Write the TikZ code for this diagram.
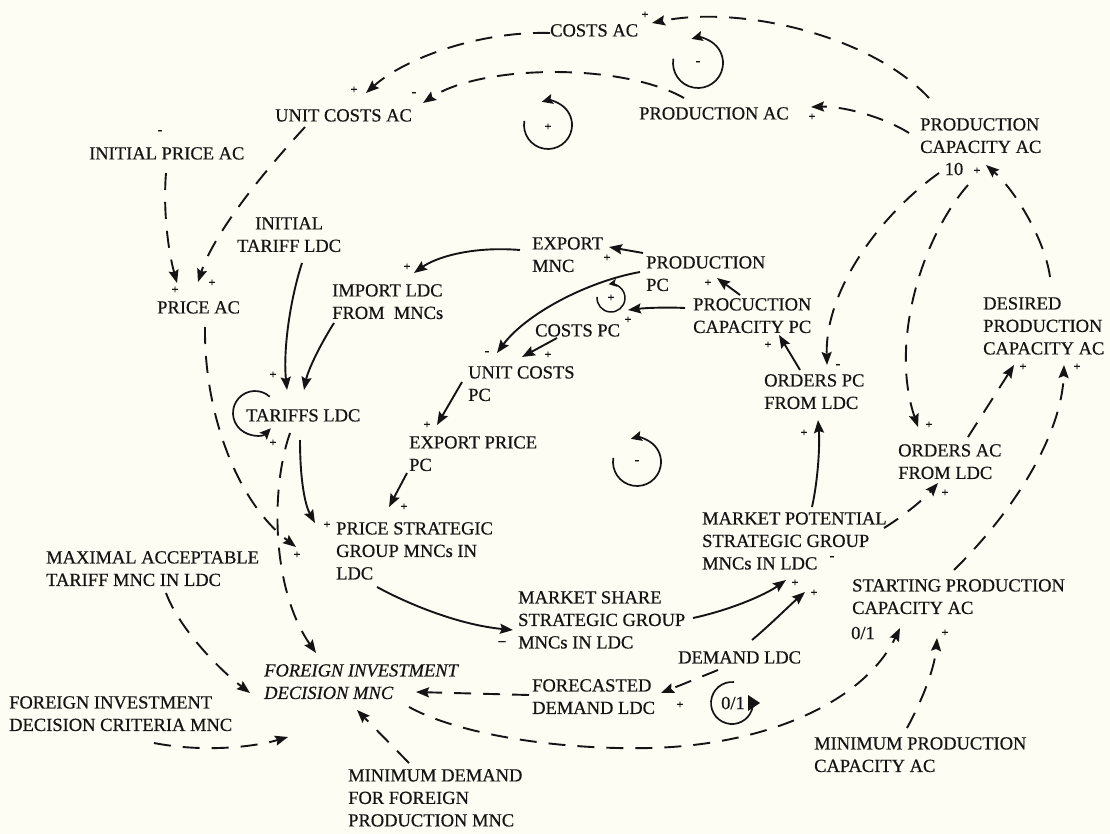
\documentclass[tikz,border=0pt]{standalone}
\usepackage{fontspec}
\setmainfont{Liberation Serif}[FakeBold=0.5]
\usetikzlibrary{arrows.meta}
\definecolor{bg}{RGB}{253,253,243}
\definecolor{ink}{RGB}{20,20,20}
\begin{document}
\begin{tikzpicture}[x=1pt,y=-1pt,
  lbl/.style={inner sep=0pt,anchor=north west,align=left,font=\fontsize{18.5}{22.5}\selectfont,text=ink},
  sgn/.style={inner sep=0pt,font=\fontsize{12}{12}\selectfont\bfseries,text=ink},
  msgn/.style={inner sep=0pt,font=\fontsize{14}{14}\selectfont\bfseries,text=ink},
  solidarr/.style={draw=ink,line width=1.9pt,-{Stealth[length=13pt,width=10pt,inset=2pt]}},
  dasharr/.style={solidarr,dash pattern=on 17pt off 12pt},
  loopln/.style={draw=ink,line width=1.7pt,-{Stealth[length=11pt,width=10pt,inset=2pt]}},
]
\fill[bg] (0,0) rectangle (1110,834);
\useasboundingbox (0,0) rectangle (1110,834);

% ---------- nodes ----------
\node[lbl] (costsac) at (550,24) {COSTS AC};
\node[lbl] (ucac) at (275,109) {UNIT COSTS AC};
\node[lbl] (prodac) at (639,107) {PRODUCTION AC};
\node[lbl] (pcapac) at (920,118) {PRODUCTION\\CAPACITY AC};
\node[lbl] (ipac) at (89,147) {INITIAL PRICE AC};
\node[lbl] (priceac) at (157,301) {PRICE AC};
\node[lbl,align=center] (itldc) at (237,217) {INITIAL\\TARIFF LDC};
\node[lbl] (imldc) at (332,284) {IMPORT LDC\\FROM\enspace MNCs};
\node[lbl] (expmnc) at (532,237) {EXPORT\\MNC};
\node[lbl] (prodpc) at (646,256) {PRODUCTION\\PC};
\node[lbl] (pcappc) at (693,298) {PROCUCTION\\CAPACITY PC};
\node[lbl] (costspc) at (535,324) {COSTS PC};
\node[lbl] (ucpc) at (468,366) {UNIT COSTS\\PC};
\node[lbl] (exppc) at (409,436) {EXPORT PRICE\\PC};
\node[lbl] (tariffs) at (246,409) {TARIFFS LDC};
\node[lbl] (psg) at (336,522) {PRICE STRATEGIC\\GROUP MNCs IN\\LDC};
\node[lbl] (maxtar) at (46,551) {MAXIMAL ACCEPTABLE\\TARIFF MNC IN LDC};
\node[lbl] (msh) at (518,591) {MARKET SHARE\\STRATEGIC GROUP\\MNCs IN LDC};
\node[lbl] (mpot) at (702,512) {MARKET POTENTIAL\\STRATEGIC GROUP\\MNCs IN LDC};
\node[lbl] (ordpc) at (764,374) {ORDERS PC\\FROM LDC};
\node[lbl] (ordac) at (898,444) {ORDERS AC\\FROM LDC};
\node[lbl] (despc) at (983,297) {DESIRED\\PRODUCTION\\CAPACITY AC};
\node[lbl] (startac) at (852,579) {STARTING PRODUCTION\\CAPACITY AC};
\node[lbl] (demand) at (678,651) {DEMAND LDC};
\node[lbl] (fcd) at (532,679) {FORECASTED\\DEMAND LDC};
\node[lbl,font=\fontsize{18.5}{22.5}\selectfont\itshape] (fid) at (264,664) {FOREIGN INVESTMENT\\DECISION MNC};
\node[lbl] (fidc) at (9,696) {FOREIGN INVESTMENT\\DECISION CRITERIA MNC};
\node[lbl] (mindem) at (348,769) {MINIMUM DEMAND\\FOR FOREIGN\\PRODUCTION MNC};
\node[lbl] (minpc) at (814,737) {MINIMUM PRODUCTION\\CAPACITY AC};

% ---------- connectors ----------
\draw[dasharr] ([shift={(9,-20)}]pcapac.north west) .. controls (870,35) and (740,5) .. ([shift={(102,-1)}]costsac.north west);
\draw[dasharr] ([shift={(0,9)}]costsac.north west) .. controls (480,31) and (405,58) .. ([shift={(91,-16)}]ucac.north west);
\draw[dasharr] ([shift={(45,-9)}]prodac.north west) .. controls (620,62) and (480,65) .. ([shift={(148,-6)}]ucac.north west);
\draw[dasharr] ([shift={(-11,15)}]pcapac.north west) .. controls (880,115) and (840,106) .. ([shift={(172,0)}]prodac.north west);
\draw[dasharr] ([shift={(19,55)}]pcapac.north west) .. controls (880,215) and (825,290) .. ([shift={(63,-9)}]ordpc.north west);
\draw[dasharr] ([shift={(48,67)}]pcapac.north west) .. controls (920,240) and (890,345) .. ([shift={(20,-17)}]ordac.north west);
\draw[dasharr] ([shift={(67,-20)}]despc.north west) .. controls (1045,240) and (1015,190) .. ([shift={(66,47)}]pcapac.north west);
\draw[dasharr] ([shift={(70,-7)}]ordac.north west) -- ([shift={(31,68)}]despc.north west);
\draw[dasharr] ([shift={(102,-9)}]startac.north west) .. controls (1020,505) and (1062,430) .. ([shift={(81,68)}]despc.north west);
\draw[dasharr] ([shift={(182,16)}]mpot.north west) .. controls (905,515) and (925,498) .. ([shift={(40,39)}]ordac.north west);
\draw[solidarr] ([shift={(110,-5)}]mpot.north west) .. controls (818,480) and (820,445) .. ([shift={(54,46)}]ordpc.north west);
\draw[solidarr] ([shift={(36,-4)}]ordpc.north west) -- ([shift={(86,37)}]pcappc.north west);
\draw[solidarr] ([shift={(47,-3)}]pcappc.north west) -- ([shift={(71,22)}]prodpc.north west);
\draw[solidarr] ([shift={(-8,10)}]pcappc.north west) .. controls (665,307) and (645,308) .. ([shift={(93,-14)}]costspc.north west);
\draw[solidarr] ([shift={(-3,-3)}]prodpc.north west) -- ([shift={(77,10)}]expmnc.north west);
\draw[solidarr] ([shift={(-12,13)}]expmnc.north west) .. controls (470,246) and (435,258) .. ([shift={(82,-11)}]imldc.north west);
\draw[solidarr] ([shift={(-6,16)}]prodpc.north west) .. controls (585,282) and (525,315) .. ([shift={(29,-13)}]ucpc.north west);
\draw[solidarr] ([shift={(22,14)}]costspc.north west) -- ([shift={(54,-9)}]ucpc.north west);
\draw[solidarr] ([shift={(-6,16)}]ucpc.north west) -- ([shift={(28,-11)}]exppc.north west);
\draw[solidarr] ([shift={(-2,37)}]exppc.north west) -- ([shift={(53,-15)}]psg.north west);
\draw[solidarr] ([shift={(65,46)}]itldc.north west) .. controls (290,300) and (283,350) .. ([shift={(41,-19)}]tariffs.north west);
\draw[solidarr] ([shift={(2,39)}]imldc.north west) .. controls (320,345) and (308,370) .. ([shift={(58,-19)}]tariffs.north west);
\draw[solidarr] ([shift={(54,31)}]tariffs.north west) .. controls (300,480) and (305,505) .. ([shift={(-21,1)}]psg.north west);
\draw[dasharr] ([shift={(44,24)}]tariffs.north west) .. controls (270,490) and (272,590) .. ([shift={(52,-11)}]fid.north west);
\draw[dasharr] ([shift={(48,26)}]priceac.north west) .. controls (204,410) and (235,500) .. ([shift={(-40,25)}]psg.north west);
\draw[dasharr] ([shift={(77,26)}]ipac.north west) .. controls (163,210) and (168,250) .. ([shift={(20,-18)}]priceac.north west);
\draw[dasharr] ([shift={(30,18)}]ucac.north west) .. controls (270,165) and (215,230) .. ([shift={(41,-19)}]priceac.north west);
\draw[solidarr] ([shift={(41,65)}]psg.north west) .. controls (410,605) and (460,625) .. ([shift={(-5,39)}]msh.north west);
\draw[solidarr] ([shift={(175,27)}]msh.north west) .. controls (730,610) and (765,595) .. ([shift={(84,68)}]mpot.north west);
\draw[solidarr] ([shift={(74,-11)}]demand.north west) .. controls (770,625) and (790,605) .. ([shift={(103,80)}]mpot.north west);
\draw[dasharr] ([shift={(40,19)}]demand.north west) -- ([shift={(129,14)}]fcd.north west);
\draw[dasharr] ([shift={(-3,16)}]fcd.north west) -- ([shift={(152,28)}]fid.north west);
\draw[dasharr] ([shift={(145,43)}]fid.north west) .. controls (460,735) and (560,750) .. (650,748) .. controls (770,745) and (865,700) .. ([shift={(48,49)}]startac.north west);
\draw[dasharr] ([shift={(61,-6)}]mindem.north west) -- ([shift={(93,46)}]fid.north west);
\draw[dasharr] ([shift={(145,47)}]fidc.north west) .. controls (200,752) and (250,748) .. ([shift={(24,73)}]fid.north west);
\draw[dasharr] ([shift={(120,42)}]maxtar.north west) .. controls (180,630) and (220,670) .. ([shift={(-14,29)}]fid.north west);
\draw[dasharr] ([shift={(93,-9)}]minpc.north west) .. controls (925,695) and (935,665) .. ([shift={(85,59)}]startac.north west);

% ---------- loop symbols ----------
\begin{scope}[shift={(698,63)},y=1pt]
  \draw[loopln] (170:25) arc (170:465:25);
\end{scope}
\begin{scope}[shift={(548,125)},y=1pt]
  \draw[loopln] (170:24) arc (170:465:24);
\end{scope}
\begin{scope}[shift={(637,462)},y=1pt]
  \draw[loopln] (170:24) arc (170:465:24);
\end{scope}
\begin{scope}[shift={(611,298)},y=1pt]
  \draw[draw=ink,line width=1.5pt,-{Stealth[length=8pt,width=8pt,inset=2pt]}] (175:14) arc (175:460:14);
\end{scope}
\begin{scope}[shift={(732,703)},y=1pt]
  \draw[draw=ink,line width=1.7pt] (85:21) arc (85:350:21);
  \fill[ink] (16,8) -- (28,0) -- (16,-8) -- cycle;
\end{scope}
\begin{scope}[shift={(255,413)},y=1pt]
  \draw[loopln] (48:22) arc (48:316:22);
\end{scope}

% ---------- signs and labels ----------
\node[msgn] (l1) at (698,63) {-};
\node[sgn] (l2) at (548,127) {+};
\node[msgn] (l3) at (637,462) {-};
\node[sgn] (l4) at (611,298) {+};
\node[lbl,anchor=center] (l5) at (733,703) {0/1};
\node[lbl,anchor=center] (ten) at (954,169) {10};
\node[lbl,anchor=center] (zo) at (863,633) {0/1};

\node[sgn] (s1) at (645,15) {+};
\node[sgn] (s2) at (354,90) {+};
\node[msgn] (s3) at (414,94) {-};
\node[sgn] (s4) at (812,117) {+};
\node[sgn] (s5) at (977,171) {+};
\node[msgn] (s6) at (838,366) {-};
\node[sgn] (s7) at (929,425) {+};
\node[sgn] (s8) at (1023,367) {+};
\node[sgn] (s9) at (1077,367) {+};
\node[sgn] (s10) at (945,493) {+};
\node[sgn] (s11) at (804,433) {+};
\node[sgn] (s12) at (768,345) {+};
\node[sgn] (s13) at (708,283) {+};
\node[sgn] (s14) at (628,320) {+};
\node[sgn] (s15) at (607,258) {+};
\node[sgn] (s16) at (407,267) {+};
\node[msgn] (s17) at (487,353) {-};
\node[sgn] (s18) at (548,355) {+};
\node[sgn] (s19) at (427,425) {+};
\node[sgn] (s20) at (404,507) {+};
\node[sgn] (s21) at (273,375) {+};
\node[sgn] (s23) at (327,525) {+};
\node[sgn] (s25) at (297,555) {+};
\node[sgn] (s26) at (175,290) {+};
\node[sgn] (s27) at (212,283) {+};
\node[msgn] (s28) at (502,643) {--};
\node[sgn] (s29) at (795,583) {+};
\node[sgn] (s30) at (814,593) {+};
\node[sgn] (s31) at (680,705) {+};
\node[sgn] (s37) at (945,633) {+};
\node[sgn] (s38) at (273,443) {+};
\node[msgn] (s39) at (160,132) {-};
\node[msgn] (s40) at (832,558) {-};
\end{tikzpicture}
\end{document}
